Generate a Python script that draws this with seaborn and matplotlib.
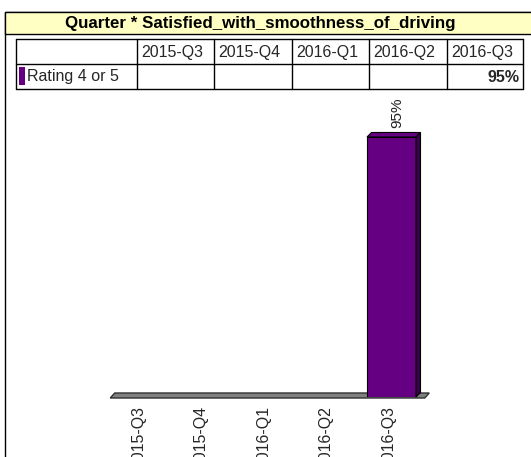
import matplotlib
matplotlib.use("Agg")
import numpy as np
import pandas as pd
import matplotlib.pyplot as plt
import seaborn as sns
from matplotlib.patches import Rectangle, Polygon
from matplotlib.lines import Line2D
from matplotlib.transforms import ScaledTranslation

# ---- data ----
quarters = ["2015-Q3", "2015-Q4", "2016-Q1", "2016-Q2", "2016-Q3"]
rating_4_or_5 = [np.nan, np.nan, np.nan, np.nan, 95]   # percent
series_name = "Rating 4 or 5"
title = "Quarter * Satisfied_with_smoothness_of_driving"

# ---- style ----
sns.set_style("white")
plt.rcParams["font.family"] = ["Liberation Sans", "DejaVu Sans"]
purple = "#660082"
purple_side = "#3a0048"
W, H = 531, 457
fig = plt.figure(figsize=(W / 100, H / 100), dpi=100)
fig.patch.set_facecolor("white")


def fp(x, y):
    """image pixel (y down) -> figure fraction"""
    return (x / W, 1 - y / H)


# ---- frame + title bar ----
fig.add_artist(Rectangle(fp(5, 470), 530 / W, 458 / H, transform=fig.transFigure,
                         facecolor="white", edgecolor="black", lw=1.0, zorder=-3))
fig.add_artist(Rectangle(fp(5, 34), 530 / W, 22 / H, transform=fig.transFigure,
                         facecolor="#FFFFC4", edgecolor="black", lw=1.0, zorder=-2))
fig.text(*fp(260, 23.5), title, ha="center", va="center", fontsize=12.2,
         fontweight="bold", color="black")

# ---- table ----
col_edges = [16, 137, 214, 292, 369, 447, 523]
row_edges = [39, 64, 89]
for x in col_edges:
    fig.add_artist(Line2D([x / W, x / W], [fp(0, row_edges[0])[1], fp(0, row_edges[-1])[1]],
                          transform=fig.transFigure, color="black", lw=1.0))
for y in row_edges:
    fig.add_artist(Line2D([col_edges[0] / W, col_edges[-1] / W], [fp(0, y)[1]] * 2,
                          transform=fig.transFigure, color="black", lw=1.0))
hy = (row_edges[0] + row_edges[1]) / 2 + 0.5
ry = (row_edges[1] + row_edges[2]) / 2 + 0.5
for i, q in enumerate(quarters):
    fig.text(*fp(col_edges[i + 1] + 4, hy), q, ha="left", va="center", fontsize=11.5)
    v = rating_4_or_5[i]
    if not np.isnan(v):
        fig.text(*fp(col_edges[i + 2] - 3, ry), f"{v:.0f}%", ha="right", va="center",
                 fontsize=11.5, fontweight="bold")
fig.add_artist(Rectangle(fp(19, 85), 6 / W, 18 / H, transform=fig.transFigure,
                         facecolor=purple, edgecolor="none"))
fig.text(*fp(27, ry), series_name, ha="left", va="center", fontsize=11.5)

# ---- bar chart ----
ax_left, ax_right, base_y, top_y = 110.25, 422.75, 397, 123.3
ax = fig.add_axes([ax_left / W, (H - base_y) / H, (ax_right - ax_left) / W, (base_y - top_y) / H])
ax.patch.set_visible(False)
df = pd.DataFrame({"Quarter": quarters, "Rating": rating_4_or_5})
sns.barplot(data=df, x="Quarter", y="Rating", order=quarters, color=purple, saturation=1,
            width=0.784, edgecolor="black", linewidth=0.8, ax=ax, zorder=3)
ax.set_xlim(-0.5, len(quarters) - 0.5)
ax.set_ylim(0, 100)
for s in ax.spines.values():
    s.set_visible(False)
ax.set_yticks([])
ax.set_xlabel("")
ax.set_ylabel("")
ax.tick_params(axis="x", length=0, pad=6.5, labelsize=11.5, labelrotation=90)
for lbl in ax.get_xticklabels():
    lbl.set_transform(lbl.get_transform() + ScaledTranslation(-3 / 100, 0, fig.dpi_scale_trans))

to_fig = fig.transFigure.inverted()
d = 4.5
# floor slab
(X0, Y0) = ax.transData.transform((-0.5, 0))
(X1, _) = ax.transData.transform((len(quarters) - 0.5, 0))
floor = [(X0, Y0 - 1), (X1 + 2, Y0 - 1), (X1 + 2 + d, Y0 + d - 0.5), (X0 + d, Y0 + d - 0.5)]
fig.add_artist(Polygon(to_fig.transform(floor), closed=True, transform=fig.transFigure,
                       facecolor="#808080", edgecolor="#303030", lw=1.0, zorder=-1))

# 3-D faces of bars + value labels
for p in ax.patches:
    h = p.get_height()
    if h is None or np.isnan(h) or h == 0:
        continue
    x0, w = p.get_x(), p.get_width()
    (A0, At) = ax.transData.transform((x0, h))
    (A1, Ab) = ax.transData.transform((x0 + w, 0))
    top = [(A0, At), (A1, At), (A1 + d, At + d), (A0 + d, At + d)]
    side = [(A1, Ab), (A1, At), (A1 + d, At + d), (A1 + d, Ab + d)]
    fig.add_artist(Polygon(to_fig.transform(top), closed=True, transform=fig.transFigure,
                           facecolor=purple, edgecolor="black", lw=0.8, zorder=2))
    fig.add_artist(Polygon(to_fig.transform(side), closed=True, transform=fig.transFigure,
                           facecolor=purple_side, edgecolor="black", lw=0.8, zorder=2))
    ax.annotate(f"{h:.0f}%", xy=(x0 + w / 2, h), xytext=(4.0, 6.5), textcoords="offset points",
                rotation=90, ha="center", va="bottom", fontsize=11, color="#202020",
                annotation_clip=False)

fig.savefig("out.png", dpi=100)
